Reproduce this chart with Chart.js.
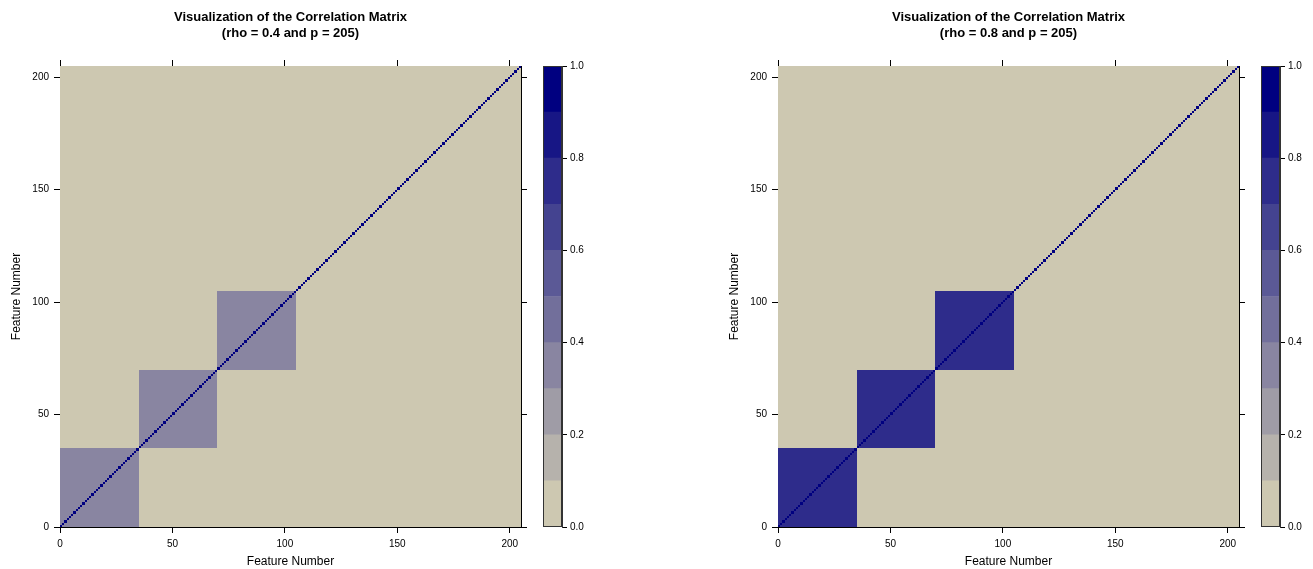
<!DOCTYPE html>
<html>
<head>
<meta charset="utf-8">
<script src="https://cdn.jsdelivr.net/npm/chart.js@4.4.1/dist/chart.umd.min.js"></script>
<style>
  html, body { margin: 0; padding: 0; background: #ffffff; }
  #wrap { position: relative; width: 1313px; height: 569px; overflow: hidden; }
  .box { position: absolute; top: 0; height: 569px; }
  .box canvas { display: block; }
</style>
</head>
<body>
<div id="wrap">
  <div class="box" style="left:0px;width:580px"><canvas id="heatLeft"></canvas></div>
  <div class="box" style="left:530px;width:70px"><canvas id="keyLeft"></canvas></div>
  <div class="box" style="left:718px;width:580px"><canvas id="heatRight"></canvas></div>
  <div class="box" style="left:1248px;width:65px"><canvas id="keyRight"></canvas></div>
</div>
<script>
// matrix setup
const featureCount = 205;
const blockEdges = [0, 35, 70, 105];
const rhoValues = [0.4, 0.8];
const panelTitles = [
    ["Visualization of the Correlation Matrix", "(rho = 0.4 and p = 205)"],
    ["Visualization of the Correlation Matrix", "(rho = 0.8 and p = 205)"]
];
const axisLabel = "Feature Number";
const axisTicks = [0, 50, 100, 150, 200];

// colour key
const levelBreaks = [0, 0.1, 0.2, 0.3, 0.4, 0.5, 0.6, 0.7, 0.8, 0.9, 1.0];
const levelColors = ["#cdc8b1", "#b6b2ac", "#9f9ca6", "#8985a1", "#726f9b", "#5b5996",
                     "#444390", "#2e2c8b", "#171685", "#000080"];
const keyTicks = [0, 0.2, 0.4, 0.6, 0.8, 1.0];

const fontFamily = "'Liberation Sans', Arial, Helvetica, sans-serif";
Chart.defaults.font.family = fontFamily;
Chart.defaults.color = "#000";
Chart.defaults.animation = false;
Chart.defaults.responsive = false;

function buildMatrix(rho)
{
    let m = [];
    for (let i = 0; i < featureCount; i++) {
        let row = [];
        for (let j = 0; j < featureCount; j++) {
            let v = 0;
            for (let b = 0; b < blockEdges.length - 1; b++) {
                if (i >= blockEdges[b] && i < blockEdges[b + 1] && j >= blockEdges[b] && j < blockEdges[b + 1]) v = rho;
            }
            if (i === j) v = 1;
            row.push(v);
        }
        m.push(row);
    }
    return m;
}

function colorFor(v)
{
    // lattice style: intervals closed on the right, lowest included
    for (let k = 1; k < levelBreaks.length; k++) {
        if (v <= levelBreaks[k] + 1e-9) return levelColors[k - 1];
    }
    return levelColors[levelColors.length - 1];
}

const heatPlugin = {
    id: 'heatCells',
    beforeDatasetsDraw(chart) {
        const m = chart.options.plugins.heatCells.matrix;
        const xs = chart.scales.x, ys = chart.scales.y;
        const ctx = chart.ctx;
        ctx.save();
        for (let i = 0; i < m.length; i++) {
            const y0 = Math.round(ys.getPixelForValue(i + 1));
            const y1 = Math.round(ys.getPixelForValue(i));
            for (let j = 0; j < m[i].length; j++) {
                const x0 = Math.round(xs.getPixelForValue(j));
                const x1 = Math.round(xs.getPixelForValue(j + 1));
                ctx.fillStyle = colorFor(m[i][j]);
                ctx.fillRect(x0, y0, x1 - x0, y1 - y0);
            }
        }
        ctx.restore();
    },
    afterDraw(chart) {
        const lines = chart.options.plugins.heatCells.title;
        const area = chart.chartArea;
        const ctx = chart.ctx;
        ctx.save();
        ctx.font = "bold 13px " + fontFamily;
        ctx.fillStyle = "#000";
        ctx.textAlign = "center";
        ctx.textBaseline = "alphabetic";
        const cx = (area.left + area.right) / 2;
        ctx.fillText(lines[0], cx, 21);
        ctx.fillText(lines[1], cx, 37);
        ctx.restore();
    }
};

const keyPlugin = {
    id: 'keyFrame',
    afterDatasetsDraw(chart) {
        const a = chart.chartArea;
        const ctx = chart.ctx;
        ctx.save();
        ctx.strokeStyle = "#333";
        ctx.lineWidth = 1;
        ctx.strokeRect(a.left + 0.5, a.top + 0.5, a.right - a.left - 1, a.bottom - a.top - 1);
        ctx.restore();
    }
};

function fixedTicks(list)
{
    return function (scale) {
        scale.ticks = list.map(v => ({ value: v }));
    };
}

function edgeAxis(position, size, showLabels, withTitle)
{
    const horizontal = position === 'top' || position === 'bottom';
    return {
        type: 'linear',
        position: position,
        min: 0,
        max: featureCount,
        afterBuildTicks: fixedTicks(axisTicks),
        afterFit: function (s) { if (horizontal) s.height = size; else s.width = size; },
        ticks: {
            display: showLabels,
            font: { size: 10 },
            padding: 5,
            maxRotation: 0,
            autoSkip: false
        },
        grid: {
            drawOnChartArea: false,
            drawTicks: true,
            tickLength: 6,
            color: '#000',
            lineWidth: 1
        },
        border: { display: true, color: '#000', width: 1 },
        title: {
            display: withTitle,
            text: axisLabel,
            font: { size: 12 },
            padding: horizontal ? { top: 0, bottom: 0 } : { top: 9, bottom: 0 }
        }
    };
}

function showHeatmap(canvasId, rho, title)
{
    const canvas = document.getElementById(canvasId);
    canvas.width = 580;
    canvas.height = 569;
    return new Chart(canvas, {
        type: 'scatter',
        data: { datasets: [{ data: [], showLine: false }] },
        options: {
            layout: { padding: 0 },
            plugins: {
                legend: { display: false },
                tooltip: { enabled: false },
                heatCells: { matrix: buildMatrix(rho), title: title }
            },
            scales: {
                x: edgeAxis('bottom', 42, true, true),
                x2: edgeAxis('top', 66, false, false),
                y: edgeAxis('left', 60, true, true),
                y2: edgeAxis('right', 59, false, false)
            }
        },
        plugins: [heatPlugin]
    });
}

function showKey(canvasId, width)
{
    const canvas = document.getElementById(canvasId);
    canvas.width = width;
    canvas.height = 569;
    const sets = levelColors.map((c, k) => ({
        data: [[levelBreaks[k], levelBreaks[k + 1]]],
        backgroundColor: c,
        borderWidth: 0,
        grouped: false,
        barPercentage: 1,
        categoryPercentage: 1
    }));
    return new Chart(canvas, {
        type: 'bar',
        data: { labels: [''], datasets: sets },
        options: {
            layout: { padding: { left: 13, top: 66, bottom: 42, right: 0 } },
            plugins: { legend: { display: false }, tooltip: { enabled: false } },
            scales: {
                x: { display: false },
                y: {
                    position: 'right',
                    min: 0,
                    max: 1,
                    afterBuildTicks: fixedTicks(keyTicks),
                    afterFit: function (s) { s.width = width - 13 - 19; },
                    ticks: {
                        font: { size: 10 },
                        padding: 3,
                        callback: v => Number(v).toFixed(1)
                    },
                    grid: { drawOnChartArea: false, drawTicks: true, tickLength: 5, color: '#000' },
                    border: { display: true, color: '#333' }
                }
            }
        },
        plugins: [keyPlugin]
    });
}

showHeatmap('heatLeft', rhoValues[0], panelTitles[0]);
showKey('keyLeft', 70);
showHeatmap('heatRight', rhoValues[1], panelTitles[1]);
showKey('keyRight', 65);
</script>
</body>
</html>
